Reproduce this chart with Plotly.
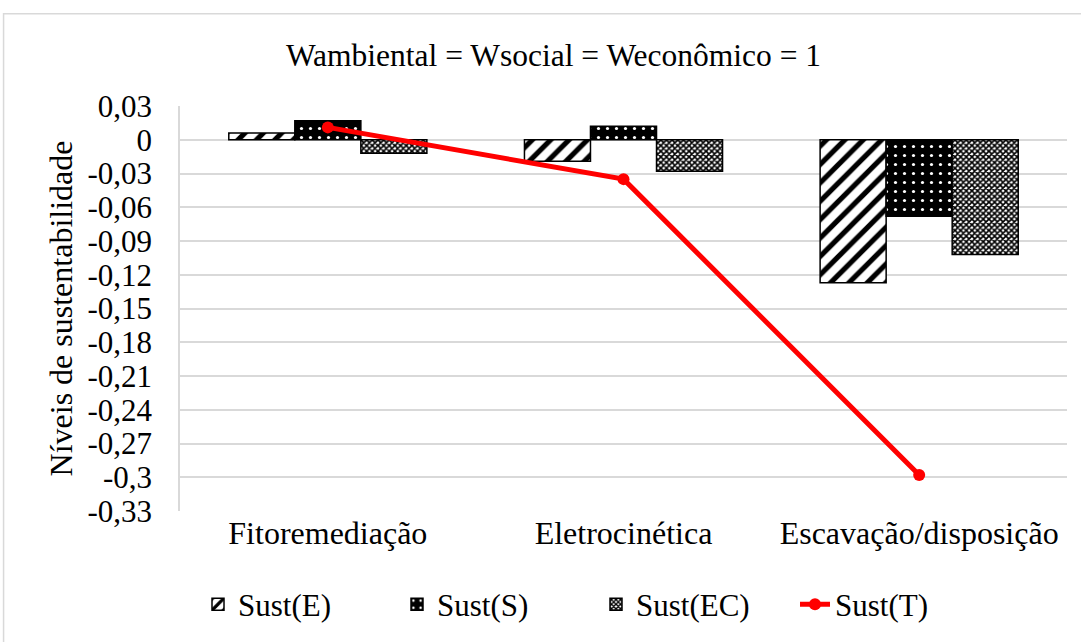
import plotly.graph_objects as go

categories = ["Fitoremediação", "Eletrocinética", "Escavação/disposição"]
sust_e = [0.006, -0.019, -0.127]
sust_s = [0.017, 0.012, -0.068]
sust_ec = [-0.012, -0.028, -0.102]
sust_t = [0.011, -0.035, -0.298]
tick_vals = [0.03, 0, -0.03, -0.06, -0.09, -0.12, -0.15, -0.18, -0.21, -0.24, -0.27, -0.3, -0.33]
tick_text = ["0,03", "0", "-0,03", "-0,06", "-0,09", "-0,12", "-0,15", "-0,18", "-0,21", "-0,24", "-0,27", "-0,3", "-0,33"]

FONT = "Liberation Serif"

fig = go.Figure()
fig.add_trace(go.Bar(
    x=categories, y=sust_e, name="Sust(E)",
    marker=dict(color="white", line=dict(color="black", width=1.5),
                pattern=dict(shape="/", fgcolor="black", bgcolor="white", fgopacity=1,
                             size=13, solidity=0.4)),
))
fig.add_trace(go.Bar(
    x=categories, y=sust_s, name="Sust(S)",
    marker=dict(color="black", line=dict(color="black", width=1.5),
                pattern=dict(shape=".", fgcolor="white", bgcolor="black", fgopacity=1,
                             size=9, solidity=0.1)),
))
fig.add_trace(go.Bar(
    x=categories, y=sust_ec, name="Sust(EC)",
    marker=dict(color="white", line=dict(color="black", width=1.5),
                pattern=dict(shape="x", fgcolor="black", bgcolor="white", fgopacity=1,
                             size=4, solidity=0.65)),
))
fig.add_trace(go.Scatter(
    x=categories, y=sust_t, name="Sust(T)", mode="lines+markers",
    line=dict(color="#ff0000", width=5),
    marker=dict(color="#ff0000", size=12),
))

fig.update_layout(
    width=1081, height=642,
    paper_bgcolor="white", plot_bgcolor="white",
    margin=dict(l=180, r=14, t=106, b=130),
    barmode="group", bargap=0.33, bargroupgap=0,
    font=dict(family=FONT, size=31, color="black"),
    title=dict(text="Wambiental = Wsocial = Weconômico = 1", x=0.512, xanchor="center",
               y=0.915, yanchor="middle", font=dict(family=FONT, size=31.5, color="black")),
    showlegend=True,
    legend=dict(orientation="h", x=0.0203, xanchor="left", y=-0.228, yanchor="middle",
                font=dict(family=FONT, size=31, color="black"),
                traceorder="normal", itemwidth=30, entrywidth=154),
    xaxis=dict(showline=False, showgrid=False, ticks="",
               tickfont=dict(family=FONT, size=32, color="black")),
    yaxis=dict(range=[-0.33, 0.03], tickvals=tick_vals, ticktext=tick_text,
               showgrid=True, gridcolor="#d9d9d9", gridwidth=2,
               zeroline=True, zerolinecolor="#d9d9d9", zerolinewidth=2,
               showline=True, linecolor="#d9d9d9", linewidth=1.5,
               ticks="", ticklabelstandoff=20,
               tickfont=dict(family=FONT, size=31, color="black"),
               title=dict(text="Níveis de sustentabilidade", standoff=5,
                          font=dict(family=FONT, size=32, color="black"))),
    shapes=[dict(type="rect", xref="paper", yref="paper",
                 x0=-0.1989, x1=1.2, y0=-0.5, y1=1.2276,
                 line=dict(color="#d9d9d9", width=1.5), fillcolor="rgba(0,0,0,0)", layer="below")],
)

fig.write_html("out.html")
